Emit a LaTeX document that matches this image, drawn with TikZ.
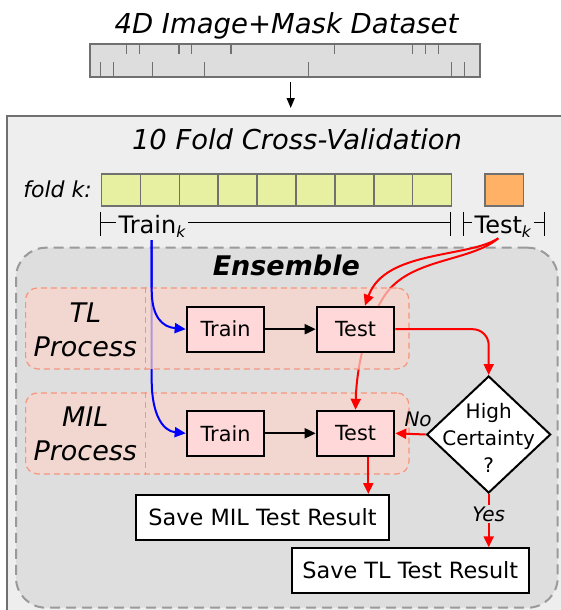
\documentclass[tikz,border=0pt]{standalone}
\usepackage{fontspec}
\setmainfont{DejaVu Sans}
\usetikzlibrary{arrows.meta,shapes.geometric}

\definecolor{panelgray}{HTML}{EEEEEE}
\definecolor{ensgray}{HTML}{DEDEDE}
\definecolor{bargray}{HTML}{DDDDDD}
\definecolor{edgegray}{HTML}{707070}
\definecolor{dashgray}{HTML}{9A9A9A}
\definecolor{cellgreen}{HTML}{E6F0A0}
\definecolor{cellorange}{HTML}{FFB266}
\definecolor{regfill}{HTML}{FAD5CB}
\definecolor{regedge}{HTML}{F5957D}
\definecolor{boxpink}{HTML}{FFD9D9}
\definecolor{linered}{HTML}{FF0000}
\definecolor{lineblue}{HTML}{0000FF}

\newcommand{\setfs}[2]{\fontsize{#1}{#2}\selectfont}
\newcommand{\subk}{\raisebox{-4pt}{\setfs{15.5}{15.5}\itshape k}}

\begin{document}
\begin{tikzpicture}[x=1pt,y=-1pt,
  tipshape/.style={-{Triangle[length=11pt,width=10pt]}},
  blackarrow/.style={tipshape, line width=2pt, draw=black},
  redarrow/.style={tipshape, line width=2pt, draw=linered},
  bluearrow/.style={tipshape, line width=2pt, draw=lineblue},
  bracket/.style={line width=1.5pt, draw=black},
  tick/.style={line width=1.5pt, draw=edgegray},
  cell/.style={draw=edgegray, line width=1.5pt, minimum width=38.9pt,
    minimum height=31.7pt, inner sep=0, anchor=north west},
  region/.style={draw=regedge, dash pattern=on 6pt off 4pt, line width=1.2pt,
    fill=regfill, fill opacity=0.7, rounded corners=12pt,
    minimum width=383.3pt, minimum height=81pt, inner sep=0, anchor=north west},
  regdiv/.style={draw=regedge, dash pattern=on 6pt off 4pt, line width=1.2pt},
  reglabel/.style={font=\setfs{27}{34}\itshape, align=center, inner sep=0},
  stepbox/.style={draw=black, line width=2pt, fill=boxpink, minimum width=77.6pt,
    minimum height=45pt, inner sep=0, font=\setfs{20.8}{24}},
  savebox/.style={draw=black, line width=2pt, fill=white, minimum height=45pt,
    inner sep=0, font=\setfs{22.4}{26}},
  edgelabel/.style={font=\setfs{20}{24}\itshape, text=black}
]
\useasboundingbox (0,0) rectangle (561,610);

% dataset strip
\node[anchor=base, font=\setfs{27.5}{32}\itshape] (dstitle) at (286.5,33.5) {4D Image+Mask Dataset};
\node[draw=edgegray, fill=bargray, line width=2pt, minimum width=390pt,
  minimum height=33pt, inner sep=0, anchor=north west] (data) at (89,43) {};
\foreach \x in {126.7,139.3,179,191.7,231,334.3,412.3,425.3,438.3}
  \draw[tick] (\x,43) -- (\x,54.3);
\foreach \x in {100.7,113.7,152.7,204.7,308.3,451.3,464.3}
  \draw[tick] (\x,62.5) -- (\x,76);

% cross-validation panel
\node[draw=edgegray, line width=2pt, fill=panelgray, minimum width=560pt,
  minimum height=510pt, anchor=north west, inner sep=0] (cvbox) at (6,115) {};
\coordinate (dsarrow) at (290.7,76);
\draw[line width=1.5pt, -{Triangle[length=10pt,width=8pt]}, shorten <=6pt, shorten >=7pt]
  (dsarrow) -- (dsarrow |- cvbox.north);
\node[anchor=base, font=\setfs{27.4}{32}\itshape] (cvtitle) at (297,149.5) {10 Fold Cross-Validation};

\node[anchor=base east, inner sep=0, font=\setfs{22}{26}\itshape] (foldk) at (92,197) {fold k:};
\foreach \i in {0,...,8}
  \node[cell, fill=cellgreen] (fold\i) at ({100.7+38.9*\i},173.3) {};
\node[cell, fill=cellorange, minimum width=38.7pt] (testfold) at (484,173.3) {};

% train / test brackets
\node[anchor=base west, inner sep=3pt, font=\setfs{24}{28}] (trainlbl) at (115.5,233.5) {Train\subk};
\coordinate (trL) at (100.7,222.7);
\coordinate (trR) at (450.7,222.7);
\draw[bracket] ([yshift=11pt]trL) -- ([yshift=-13pt]trL);
\draw[bracket] ([yshift=11pt]trR) -- ([yshift=-13pt]trR);
\draw[bracket] (trL) -- (trL -| trainlbl.west);
\draw[bracket] (trainlbl.east |- trL) -- (trR);

\node[anchor=base west, inner sep=2.5pt, font=\setfs{24}{28}] (testlbl) at (472,233.5) {Test\subk};
\coordinate (teL) at (463.3,222.7);
\coordinate (teR) at (544.3,222.7);
\draw[bracket] ([yshift=11pt]teL) -- ([yshift=-13pt]teL);
\draw[bracket] ([yshift=11pt]teR) -- ([yshift=-13pt]teR);
\draw[bracket] (teL) -- (teL -| testlbl.west);
\draw[bracket] (testlbl.east |- teR) -- (teR);

% ensemble area
\node[draw=dashgray, dash pattern=on 10pt off 6pt, line width=2pt, fill=ensgray,
  rounded corners=30pt, minimum width=541.7pt, minimum height=360pt,
  anchor=north west, inner sep=0] (ens) at (15,246.7) {};
\node[anchor=base, font=\setfs{27}{32}\bfseries\itshape] (enstitle) at (286.3,275.5) {Ensemble};

\coordinate (divx) at (145.5,0);
\coordinate (bsrc) at (151.7,240);
\coordinate (tsrc) at (498.3,238.3);

% MIL process row
\node[region] (milreg) at (25,392.3) {};
\draw[regdiv] (milreg.north -| divx) -- (milreg.south -| divx);
\node[reglabel] (millbl) at (85.3,433.5) {MIL\\Process};
\node[stepbox] (mtrain) at (225.5,433.3) {Train};
\node[stepbox] (mtest) at (355.5,433.3) {Test};

% connectors that run underneath the TL process row
\draw[bluearrow] (bsrc) -- (151.7,380) .. controls (151.7,415) and (163,431) .. (mtrain.west);
\draw[redarrow] (tsrc) .. controls (470,262) and (410,258) .. (385,295)
  .. controls (365,325) and (356.5,370) .. (mtest.north);

% TL process row
\node[region] (tlreg) at (25,287.3) {};
\draw[regdiv] (tlreg.north -| divx) -- (tlreg.south -| divx);
\node[reglabel] (tllbl) at (85.3,329.5) {TL\\Process};
\node[stepbox] (ttrain) at (225.5,329.2) {Train};
\node[stepbox] (ttest) at (355.5,329.2) {Test};

% decision and results
\node[diamond, draw=black, line width=2pt, fill=white, minimum width=124pt,
  minimum height=117pt, inner sep=0] (dec) at (488.7,434.5) {};
\node[font=\setfs{20}{27}, align=center, inner sep=0] (dectext) at (488.7,437.5) {High\\Certainty\\?};
\node[savebox, minimum width=253pt] (savemil) at (262.5,517.5) {Save MIL Test Result};
\node[savebox, minimum width=237.3pt, minimum height=44.4pt] (savetl) at (410.3,570.5) {Save TL Test Result};

% connectors on top
\draw[bluearrow] (bsrc) -- (151.7,290) .. controls (151.7,318) and (163,327) .. (ttrain.west);
\draw[redarrow] (tsrc) .. controls (468,258) and (385,250) .. ([xshift=9.5pt]ttest.north);
\draw[blackarrow] (ttrain) -- (ttest);
\draw[blackarrow] (mtrain) -- (mtest);
\draw[redarrow, rounded corners=16pt] (ttest.east) -| (dec.north);
\draw[redarrow] (dec.west) -- node[edgelabel, pos=0.25, anchor=base, yshift=8pt, inner sep=0] (nolbl) {No} (mtest.east);
\draw[redarrow] (dec.south) -- node[edgelabel, pos=0.38, fill=ensgray, inner sep=1.5pt] (yeslbl) {Yes} (savetl.north -| dec.south);
\draw[redarrow] ([xshift=12.8pt]mtest.south) -- ([xshift=12.8pt]mtest.south |- savemil.north);
\end{tikzpicture}
\end{document}
